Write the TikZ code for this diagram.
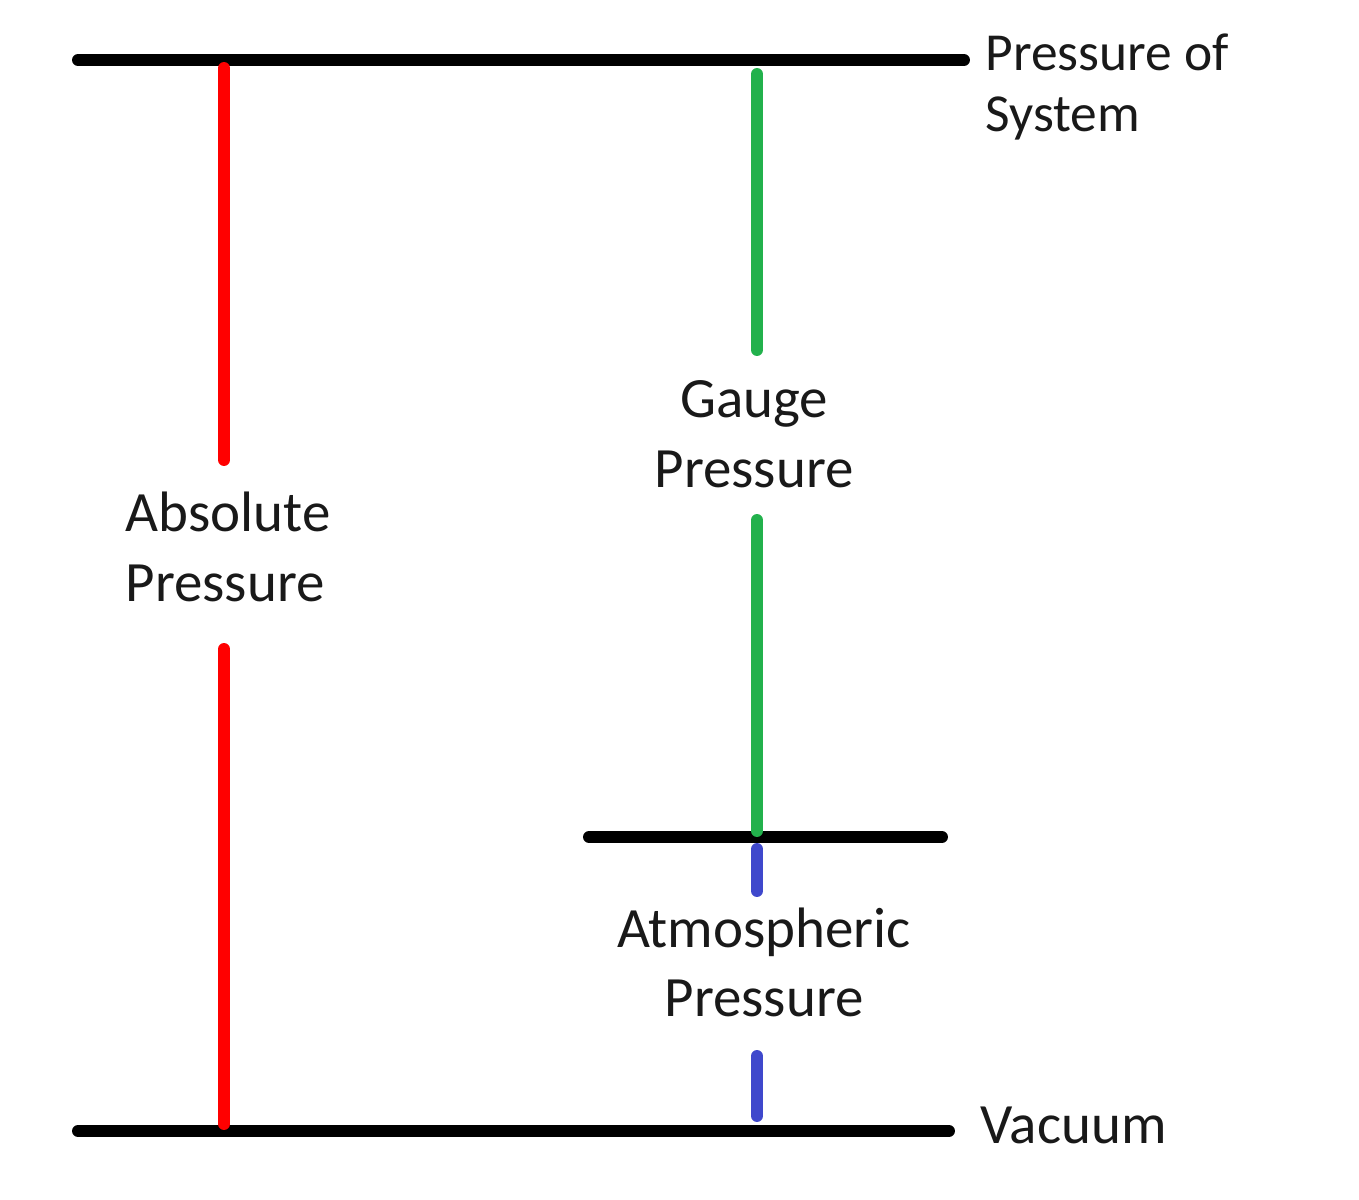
\documentclass[tikz,border=0pt]{standalone}
\usepackage{fontspec}
\setmainfont{Carlito}
\definecolor{ink}{RGB}{25,25,25}
\definecolor{absred}{RGB}{255,0,0}
\definecolor{gaugegreen}{RGB}{34,177,76}
\definecolor{atmblue}{RGB}{63,72,204}

\begin{document}
\begin{tikzpicture}[
    x=0.01cm,
    y=-0.01cm,
    line cap=round,
    line join=round,
    level/.style={
      draw=black,
      line width=3.4pt
    },
    bar/.style={
      line width=3.4pt
    },
    sidelabel/.style={
      anchor=base west,
      inner sep=0pt,
      align=left,
      text=ink,
      font=\fontsize{15.2}{17.1}\selectfont
    },
    barlabel/.style={
      anchor=base,
      inner sep=0pt,
      text=ink,
      font=\fontsize{16.2}{19.9}\selectfont
    }
]
\useasboundingbox (0,0) rectangle (1359,1200);

% Pressure levels.
\coordinate (sysL) at (78,60);
\coordinate (sysR) at (964,60);
\coordinate (atmL) at (589,837);
\coordinate (atmR) at (942,837);
\coordinate (vacL) at (78,1131);
\coordinate (vacR) at (949,1131);

\draw[level] (sysL) -- (sysR);
\draw[level] (atmL) -- (atmR);
\draw[level] (vacL) -- (vacR);

% Side labels (base anchor sits on the last line).
\node[sidelabel] (system) at (985,131) {Pressure of\\System};
\node[sidelabel,font=\fontsize{16.2}{19.9}\selectfont] (vacuum) at (980,1143)
  {Vacuum};

% Labels of the three spans.
\node[barlabel,anchor=base west,align=left] (absolute) at (125,601)
  {Absolute\\Pressure};
\node[barlabel,align=center] (gauge) at (754,487)
  {Gauge\\Pressure};
\node[barlabel,align=center] (atmos) at (764,1017)
  {Atmospheric\\Pressure};

% Absolute pressure: vacuum up to the system.
\coordinate (absTop) at (224,68);
\coordinate (absA) at (224,460);
\coordinate (absB) at (224,649);
\coordinate (absBot) at (224,1124);
\draw[bar,absred] (absTop) -- (absA);
\draw[bar,absred] (absB) -- (absBot);

% Gauge pressure: atmosphere up to the system.
\coordinate (gaugeTop) at (757,74);
\coordinate (gaugeA) at (757,350);
\coordinate (gaugeB) at (757,520);
\coordinate (gaugeBot) at (757,831);
\draw[bar,gaugegreen] (gaugeTop) -- (gaugeA);
\draw[bar,gaugegreen] (gaugeB) -- (gaugeBot);

% Atmospheric pressure: vacuum up to the atmosphere.
\coordinate (atmTop) at (757,849);
\coordinate (atmA) at (757,891);
\coordinate (atmB) at (757,1056);
\coordinate (atmBot) at (757,1116);
\draw[bar,atmblue] (atmTop) -- (atmA);
\draw[bar,atmblue] (atmB) -- (atmBot);

\end{tikzpicture}
\end{document}
